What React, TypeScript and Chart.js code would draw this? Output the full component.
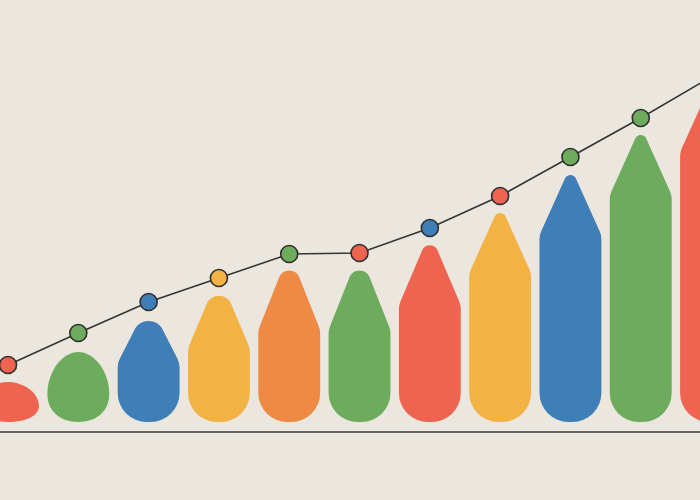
import { useEffect, useRef } from "react";
import { Chart, registerables } from "chart.js";

Chart.register(...registerables);

const RED = "#ee6450";
const GREEN = "#6dab5d";
const BLUE = "#3f7eb6";
const YELLOW = "#f3b244";
const ORANGE = "#ee8a43";

// bar heights and line values share one y unit
const positions = [0, 1, 2, 3, 4, 5, 6, 7, 8, 9, 10];
const barValues = [4.0, 7.0, 10.2, 12.7, 15.2, 15.2, 17.7, 20.9, 24.7, 28.7, 33.0];
const barColors = [RED, GREEN, BLUE, YELLOW, ORANGE, GREEN, RED, YELLOW, BLUE, GREEN, RED];
const lineValues = [5.7, 8.9, 12.0, 14.4, 16.8, 16.9, 19.4, 22.6, 26.5, 30.4, 34.5];
const pointColors = [RED, GREEN, BLUE, YELLOW, GREEN, RED, BLUE, RED, GREEN, GREEN, GREEN];

const BASELINE_VALUE = -1;

function eggPath(ctx: CanvasRenderingContext2D, x: number, y: number, base: number, hw: number) {
  const h = base - y;
  const yw = y + h * 0.6;
  const up = yw - y;
  const down = base - yw;
  ctx.moveTo(x, y);
  ctx.bezierCurveTo(x + hw * 0.5, y, x + hw, yw - up * 0.55, x + hw, yw);
  ctx.bezierCurveTo(x + hw, yw + down * 0.6, x + hw * 0.6, base, x, base);
  ctx.bezierCurveTo(x - hw * 0.6, base, x - hw, yw + down * 0.6, x - hw, yw);
  ctx.bezierCurveTo(x - hw, yw - up * 0.55, x - hw * 0.5, y, x, y);
}

function pencilPath(ctx: CanvasRenderingContext2D, x: number, y: number, base: number, hw: number) {
  const h = base - y;
  const t = Math.min(60, h * 0.42);
  const rt = Math.max(6, 26 - 0.1 * h);
  const rs = 18;
  // lift the virtual apex so the rounded tip reaches y
  let ya = y;
  for (let k = 0; k < 3; k++) {
    const a = Math.atan2(hw, y + t - ya);
    ya = y - (rt / Math.sin(a) - rt);
  }
  const alpha = Math.atan2(hw, y + t - ya);
  const shD = rs * Math.tan(alpha / 2);
  const rb = Math.max(4, Math.min(29, h - t - shD - 0.5));
  const ys = y + t;
  ctx.moveTo(x, base);
  ctx.arcTo(x - hw, base, x - hw, ys, rb);
  ctx.arcTo(x - hw, ys, x, ya, rs);
  ctx.arcTo(x, ya, x + hw, ys, rt);
  ctx.arcTo(x + hw, ys, x + hw, base, rs);
  ctx.arcTo(x + hw, base, x, base, rb);
}

// pencil-tip bars drawn over the (transparent) bar elements
const shapedBars = {
  id: "shapedBars",
  afterDatasetDraw(chart: Chart, args: any) {
    if (args.meta.type !== "bar") return;
    const ctx = chart.ctx;
    args.meta.data.forEach((el: any, i: number) => {
      const { x, y, base, width } = el.getProps(["x", "y", "base", "width"], true);
      const hw = width / 2;
      ctx.save();
      ctx.beginPath();
      if (base - y < 80) eggPath(ctx, x, y, base, hw);
      else pencilPath(ctx, x, y, base, hw);
      ctx.closePath();
      ctx.fillStyle = barColors[i];
      ctx.fill();
      ctx.restore();
    });
  },
  beforeDatasetsDraw(chart: Chart) {
    const ctx = chart.ctx;
    const yPix = chart.scales.y.getPixelForValue(BASELINE_VALUE);
    ctx.save();
    ctx.strokeStyle = "#3a3a3a";
    ctx.lineWidth = 1.6;
    ctx.beginPath();
    ctx.moveTo(0, yPix);
    ctx.lineTo(chart.width, yPix);
    ctx.stroke();
    ctx.restore();
  },
};

export default function App() {
  const canvasRef = useRef<HTMLCanvasElement | null>(null);
  const chartRef = useRef<Chart | null>(null);

  useEffect(() => {
    if (!canvasRef.current) return;

    chartRef.current = new Chart(canvasRef.current, {
      type: "bar",
      data: {
        datasets: [
          {
            type: "line",
            data: positions.map((p, i) => ({ x: p, y: lineValues[i] })),
            borderColor: "#353535",
            borderWidth: 1.6,
            tension: 0,
            pointRadius: 8.5,
            pointBackgroundColor: pointColors,
            pointBorderColor: "#2f2f2f",
            pointBorderWidth: 1.6,
            clip: false,
          } as any,
          {
            type: "bar",
            data: positions.map((p, i) => ({ x: p, y: barValues[i] })),
            backgroundColor: "rgba(0,0,0,0)",
            barPercentage: 0.88,
            categoryPercentage: 1,
          },
        ],
      },
      options: {
        animation: false,
        responsive: false,
        layout: { padding: 0, autoPadding: false },
        plugins: {
          legend: { display: false },
          tooltip: { enabled: false },
        },
        scales: {
          x: { type: "linear", display: false, offset: false, min: -0.114, max: 9.843 },
          y: { display: false, min: -7.8, max: 42.2 },
        },
      },
      plugins: [shapedBars],
    });

    return () => {
      if (chartRef.current) {
        chartRef.current.destroy();
        chartRef.current = null;
      }
    };
  }, []);

  return (
    <div
      style={{
        position: "fixed",
        left: 0,
        top: 0,
        width: 700,
        height: 500,
        background: "#ebe7de",
      }}
    >
      <canvas ref={canvasRef} width={700} height={500} style={{ display: "block" }} />
    </div>
  );
}
